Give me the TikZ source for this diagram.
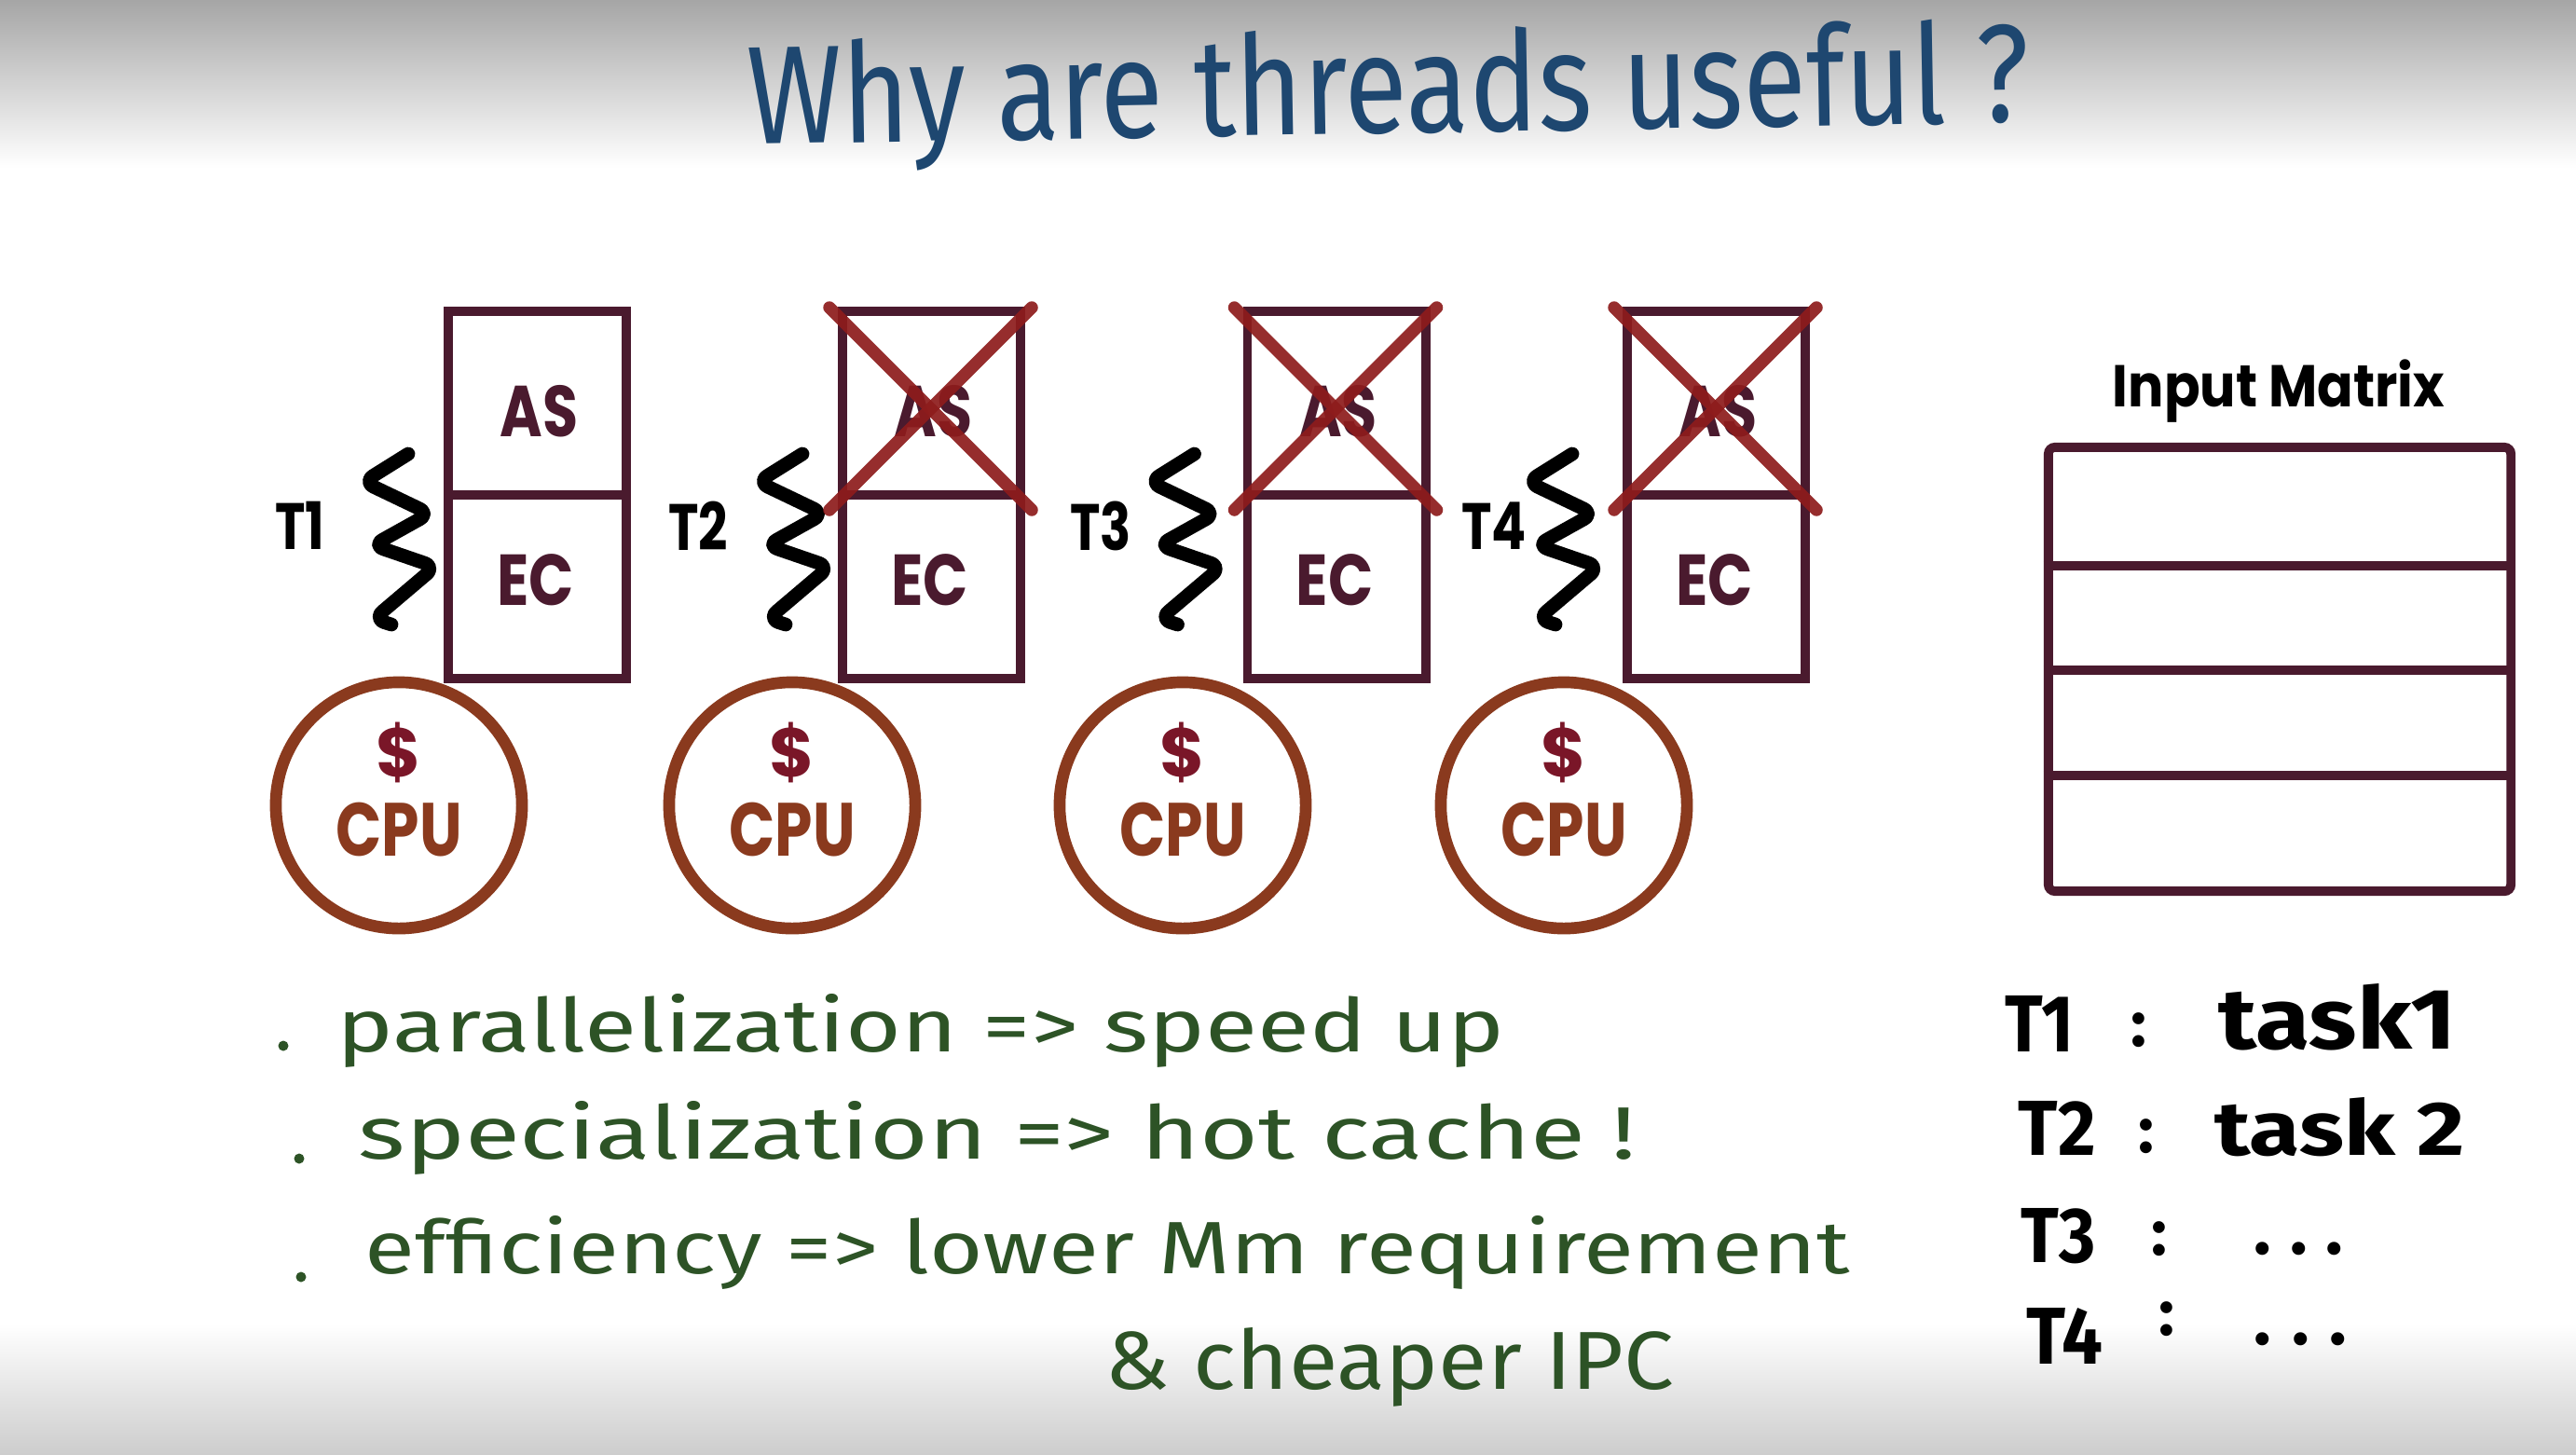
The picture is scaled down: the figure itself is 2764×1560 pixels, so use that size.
\documentclass[tikz,border=0pt]{standalone}
\usepackage{fontspec}
\setmainfont{Poppins}
\newfontfamily\handf{Fira Sans}
\usetikzlibrary{calc}
\definecolor{boxc}{HTML}{4A1A2E}
\definecolor{crossc}{HTML}{8E1C1C}
\definecolor{cpuc}{HTML}{8A3A1E}
\definecolor{dollarc}{HTML}{7A1628}
\definecolor{titlec}{HTML}{1E4770}
\definecolor{greenc}{HTML}{2D5326}
\definecolor{topgray}{HTML}{A6A6A6}
\definecolor{botgray}{HTML}{CDCDCD}
\newcommand\sqz[2]{\scalebox{#1}[1]{#2}}
\newcommand\fit[3]{\resizebox{#1}{#2}{#3}}
\tikzset{
  cell/.style={draw=boxc, line width=2.8pt, minimum width=1.91cm, minimum height=1.97cm, inner sep=0pt, outer sep=0pt},
  celltext/.style={text=boxc, font=\bfseries\fontsize{22}{22}\selectfont, inner sep=0pt},
  tlabel/.style={text=black, font=\bfseries\fontsize{20}{20}\selectfont, inner sep=0pt},
  cpu/.style={circle, draw=cpuc, line width=3.6pt, minimum size=2.64cm, inner sep=0pt},
  cputext/.style={text=cpuc, font=\bfseries\fontsize{23}{23}\selectfont, inner sep=0pt},
  dollar/.style={text=dollarc, font=\bfseries\fontsize{21}{21}\selectfont, inner sep=0pt},
  cross/.style={draw=crossc, line width=3.8pt, line cap=round, opacity=0.92},
  squigline/.style={draw=black, line width=4.2pt, line cap=round, line join=round, rounded corners=3.5pt},
  hand/.style={font=\handf, inner sep=0pt, anchor=base west},
  colon/.style={font=\handf\bfseries\fontsize{20}{20}\selectfont, inner sep=0pt, anchor=base west},
  mbox/.style={draw=boxc, line width=2.8pt, rounded corners=2pt, minimum width=4.96cm, minimum height=4.76cm, inner sep=0pt},
  mline/.style={draw=boxc, line width=2.8pt},
  squig/.pic={\draw[squigline] (-43,-77) -- (-91,-47) -- (-20,-13) -- (-81,21) -- (-14,44) -- (-80,100) -- (-61,106);}
}
\begin{document}
\begin{tikzpicture}[x=0.01cm,y=-0.01cm]
\useasboundingbox (0,0) rectangle (2764,1560);
\fill[white] (0,0) rectangle (2764,1560);
\shade[top color=topgray, bottom color=white] (0,0) rectangle (2764,180);
\shade[top color=white, bottom color=botgray] (0,1420) rectangle (2764,1560);

% title
\node[hand, text=titlec, rotate=1] (title) at (802,155) {\fit{13.75cm}{1.12cm}{Why are threads useful ?}};

% thread boxes
\foreach \i/\cx/\tx/\so in {1/576.5/322/0, 2/999.5/749/0, 3/1434/1181/-14, 4/1841.5/1603/-16}{
  \node[cell] (as\i) at (\cx,432.5) {};
  \node[cell] (ec\i) at (\cx,629.5) {};
  \node[celltext] (ast\i) at (\cx+2,441) {\sqz{0.8}{AS}};
  \node[celltext] (ect\i) at (\cx-2,622) {\sqz{0.82}{EC}};
  \node[tlabel] (tl\i) at (\tx,564) {\sqz{0.78}{T\i}};
  \pic at (\cx-95.5+\so,564) {squig};
}
\foreach \i in {2,3,4}{
  \draw[cross] ([shift={(-0.14cm,0.04cm)}]as\i.north west) -- ([shift={(0.12cm,-0.16cm)}]as\i.south east);
  \draw[cross] ([shift={(0.12cm,0.04cm)}]as\i.north east) -- ([shift={(-0.14cm,-0.16cm)}]as\i.south west);
}

% CPUs
\foreach \i/\cx in {1/428, 2/850, 3/1269, 4/1678}{
  \node[cpu] (cpu\i) at (\cx,864) {};
  \node[dollar] (dol\i) at (\cx,807) {\$};
  \node[cputext] (cput\i) at (\cx,890) {\sqz{0.8}{CPU}};
}

% input matrix
\node[font=\bfseries\fontsize{18}{18}\selectfont, inner sep=0pt] (mlabel) at (2445,420) {\sqz{0.9}{Input Matrix}};
\node[mbox] (m) at (2446,718) {};
\foreach \f in {0.271,0.502,0.735}{
  \draw[mline] ($(m.north west)!\f!(m.south west)$) -- ($(m.north east)!\f!(m.south east)$);
}

% bullet list
\foreach \bx/\by in {304/1122, 321/1243, 323/1370}{
  \fill[greenc] (\bx,\by) circle (5.5);
}
\node[hand, text=greenc] (l1) at (361,1128) {\fit{12.52cm}{0.62cm}{parallelization => speed up}};
\node[hand, text=greenc] (l2) at (384,1243) {\fit{13.70cm}{0.62cm}{specialization => hot cache !}};
\node[hand, text=greenc] (l3) at (391,1366) {\fit{15.92cm}{0.62cm}{efficiency => lower Mm requirement}};
\node[hand, text=greenc] (l4) at (1185,1490) {\fit{6.10cm}{0.66cm}{\& cheaper IPC}};

% task list
\node[hand, font=\handf\bfseries] (r1a) at (2151,1128) {\fit{0.74cm}{0.6cm}{T1}};
\node[colon] (r1b) at (2286,1122) {:};
\node[hand, font=\handf\bfseries] (r1c) at (2380,1125) {\fit{2.55cm}{0.7cm}{task1}};
\node[hand, font=\handf\bfseries] (r2a) at (2165,1239) {\fit{0.83cm}{0.58cm}{T2}};
\node[colon] (r2b) at (2294,1236) {:};
\node[hand, font=\handf\bfseries] (r2c) at (2376,1239) {\fit{2.68cm}{0.62cm}{task 2}};
\node[hand, font=\handf\bfseries] (r3a) at (2168,1354) {\fit{0.80cm}{0.58cm}{T3}};
\node[colon] (r3b) at (2308,1346) {:};
\node[hand, font=\handf\bfseries] (r3c) at (2418,1345) {\fontsize{22}{22}\selectfont .\hspace{0.2cm}.\hspace{0.2cm}.};
\node[hand, font=\handf\bfseries] (r4a) at (2174,1463) {\fit{0.82cm}{0.6cm}{T4}};
\node[colon] (r4b) at (2316,1432) {:};
\node[hand, font=\handf\bfseries] (r4c) at (2418,1442) {\fontsize{22}{22}\selectfont .\hspace{0.22cm}.\hspace{0.22cm}.};
\end{tikzpicture}
\end{document}
